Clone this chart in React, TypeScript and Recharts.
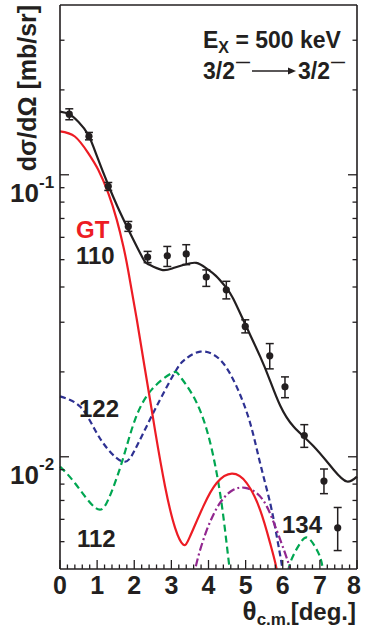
import { ComposedChart, Line, Scatter, ErrorBar, XAxis, YAxis } from "recharts";

const INK = "#231f20";
const FONT = "'Liberation Sans', Arial, Helvetica, sans-serif";

// measured cross sections (theta c.m. in deg, mb/sr)
const pointAngles = [0.25, 0.78, 1.3, 1.84, 2.36, 2.89, 3.4, 3.94, 4.48, 4.99, 5.65, 6.06, 6.58, 7.11, 7.48];
const pointValues = [0.164, 0.137, 0.091, 0.0656, 0.0511, 0.0516, 0.0524, 0.0434, 0.0391, 0.029, 0.0228, 0.0177, 0.0119, 0.0082, 0.0056];
const pointLows = [0.1567, 0.133, 0.088, 0.063, 0.0488, 0.0473, 0.048, 0.0402, 0.0363, 0.0275, 0.0205, 0.0162, 0.0108, 0.0074, 0.00465];
const pointHighs = [0.1714, 0.1413, 0.0939, 0.0683, 0.0535, 0.0557, 0.0565, 0.046, 0.0419, 0.0306, 0.0252, 0.0192, 0.013, 0.00905, 0.00661];

// total calculation (black)
const totalAngles = [0, 0.25, 0.5, 0.76, 1.0, 1.3, 1.55, 1.8, 2.2, 2.38, 2.74, 3.05, 3.35, 3.67, 3.95, 4.2, 4.45, 4.66, 4.99, 5.39, 5.66, 5.93, 6.29, 6.83, 7.37, 7.73, 8.0];
const totalValues = [0.1675, 0.164, 0.154, 0.1387, 0.116, 0.092, 0.077, 0.0656, 0.0515, 0.0482, 0.046, 0.0467, 0.048, 0.0487, 0.0465, 0.0438, 0.0402, 0.0365, 0.0295, 0.0227, 0.0186, 0.0152, 0.0128, 0.0109, 0.009, 0.00817, 0.0085];

// GT component (red)
const gtAngles = [0, 0.4, 0.76, 1.03, 1.3, 1.53, 1.71, 1.84, 2.07, 2.29, 2.43, 2.56, 2.83, 3.1, 3.32, 3.5, 3.86, 4.22, 4.63, 5.03, 5.39, 5.66, 5.8, 5.9];
const gtValues = [0.1426, 0.1367, 0.1194, 0.1042, 0.0861, 0.0692, 0.0555, 0.0455, 0.0306, 0.0204, 0.0158, 0.0124, 0.00785, 0.0056, 0.00488, 0.00521, 0.00667, 0.00807, 0.00871, 0.00807, 0.00648, 0.00494, 0.0042, 0.0036];

// 122 component (blue)
const c122Angles = [0, 0.54, 0.94, 1.3, 1.72, 2.02, 2.38, 2.74, 3.14, 3.38, 3.78, 4.31, 4.76, 5.12, 5.39, 5.66, 5.84, 5.98, 6.05];
const c122Values = [0.01637, 0.01507, 0.01247, 0.0106, 0.0096, 0.0106, 0.0132, 0.01637, 0.0204, 0.0222, 0.0236, 0.0221, 0.0177, 0.0132, 0.0095, 0.00686, 0.00521, 0.0041, 0.0035];

// 112 component (green), two lobes
const c112Angles = [0, 0.4, 0.96, 1.3, 1.66, 2.02, 2.47, 3.01, 3.23, 3.59, 3.95, 4.22, 4.4, 4.54, 4.62];
const c112Values = [0.00923, 0.00807, 0.00658, 0.00705, 0.0095, 0.01352, 0.0173, 0.0198, 0.0193, 0.0164, 0.0125, 0.00875, 0.00614, 0.00431, 0.0036];
const c112TailAngles = [6.12, 6.2, 6.47, 6.69, 6.92, 7.05, 7.12];
const c112TailValues = [0.0036, 0.0042, 0.00494, 0.00515, 0.00467, 0.0042, 0.0036];

// 134 component (purple)
const c134Angles = [3.6, 3.68, 3.95, 4.31, 4.67, 4.99, 5.3, 5.57, 5.84, 6.06, 6.2, 6.27];
const c134Values = [0.0036, 0.0042, 0.00548, 0.00686, 0.00764, 0.00776, 0.00743, 0.00667, 0.00548, 0.00456, 0.004, 0.0036];

const xMajorTicks = [0, 1, 2, 3, 4, 5, 6, 7, 8];
const xTicks = xMajorTicks.flatMap((m) =>
  m === 8 ? [8] : [0, 2, 4, 6, 8].map((k) => Math.round((m + k / 10) * 10) / 10)
);
const yMajorTicks = [0.01, 0.1];
const yTicks = [0.005, 0.006, 0.007, 0.008, 0.009, 0.01, 0.02, 0.03, 0.04, 0.05, 0.06, 0.07, 0.08, 0.09, 0.1, 0.2, 0.3];
const yExponents: Record<string, string> = { "0.01": "-2", "0.1": "-1" };

const toRows = (xs: number[], ys: number[]) => xs.map((x, i) => ({ x, y: ys[i] }));

const pointRows = pointAngles.map((x, i) => ({
  x,
  y: pointValues[i],
  err: [pointValues[i] - pointLows[i], pointHighs[i] - pointValues[i]],
}));
const totalRows = toRows(totalAngles, totalValues);
const gtRows = toRows(gtAngles, gtValues);
const c122Rows = toRows(c122Angles, c122Values);
const c112Head = toRows(c112Angles, c112Values);
const c112Tail = toRows(c112TailAngles, c112TailValues);
const c134Rows = toRows(c134Angles, c134Values);

const txt = { fontFamily: FONT, fontWeight: 700, fill: INK } as const;

function BottomTick({ x, y, payload }: any) {
  const major = xMajorTicks.includes(payload.value);
  return (
    <g>
      <line x1={x} x2={x} y1={y} y2={y - (major ? 9 : 4.5)} stroke={INK} strokeWidth={1.3} />
      {major && (
        <text x={payload.value === 8 ? x - 3 : x} y={y + 25} textAnchor="middle" fontSize={25} {...txt}>
          {payload.value}
        </text>
      )}
    </g>
  );
}

function TopTick({ x, y, payload }: any) {
  const major = xMajorTicks.includes(payload.value);
  return <line x1={x} x2={x} y1={y} y2={y + (major ? 9 : 4.5)} stroke={INK} strokeWidth={1.3} />;
}

function LeftTick({ x, y, payload }: any) {
  const major = yMajorTicks.includes(payload.value);
  const exp = yExponents[String(payload.value)];
  return (
    <g>
      <line x1={x} x2={x + (major ? 9 : 4.5)} y1={y} y2={y} stroke={INK} strokeWidth={1.3} />
      {major && (
        <>
          <text x={x - 21} y={y + 27} textAnchor="end" fontSize={26} {...txt}>10</text>
          <text x={x - 21} y={y + 13} fontSize={17} {...txt}>{exp}</text>
        </>
      )}
    </g>
  );
}

function RightTick({ x, y, payload }: any) {
  const major = yMajorTicks.includes(payload.value);
  return <line x1={x} x2={x - (major ? 9 : 4.5)} y1={y} y2={y} stroke={INK} strokeWidth={1.3} />;
}

const Dot = (p: any) => <circle cx={p.cx} cy={p.cy} r={3.6} fill={INK} />;

export default function App() {
  const axisLine = { stroke: INK, strokeWidth: 1.6 };
  const curve = { xAxisId: "b", yAxisId: "l", dataKey: "y", type: "natural" as const, dot: false, isAnimationActive: false, strokeWidth: 2.2 };
  return (
    <div style={{ position: "absolute", left: 0, top: 0, width: 366, height: 635, background: "#fff" }}>
      <ComposedChart width={366} height={635} margin={{ top: 0, right: 0, bottom: 0, left: 0 }}>
        <XAxis xAxisId="b" dataKey="x" type="number" domain={[0, 8]} ticks={xTicks} interval={0}
          height={66} tickSize={0} tickMargin={0} tickLine={false} axisLine={axisLine} tick={<BottomTick />} />
        <XAxis xAxisId="t" orientation="top" dataKey="x" type="number" domain={[0, 8]} ticks={xTicks} interval={0}
          height={5} tickSize={0} tickMargin={0} tickLine={false} axisLine={axisLine} tick={<TopTick />} />
        <YAxis yAxisId="l" dataKey="y" type="number" scale="log" domain={[0.004, 0.4]} allowDataOverflow
          ticks={yTicks} interval={0} width={60} tickSize={0} tickMargin={0} tickLine={false}
          axisLine={axisLine} tick={<LeftTick />} />
        <YAxis yAxisId="r" orientation="right" dataKey="y" type="number" scale="log" domain={[0.004, 0.4]} allowDataOverflow
          ticks={yTicks} interval={0} width={9} tickSize={0} tickMargin={0} tickLine={false}
          axisLine={axisLine} tick={<RightTick />} />

        <Line {...curve} data={c122Rows} stroke="#2e3192" strokeDasharray="6 3.5" />
        <Line {...curve} data={c112Head} stroke="#00a651" strokeDasharray="7 4" />
        <Line {...curve} data={c112Tail} stroke="#00a651" strokeDasharray="7 4" />
        <Line {...curve} data={c134Rows} stroke="#92278f" strokeDasharray="8 3 2 3" />
        <Line {...curve} data={gtRows} stroke="#ed1c24" />
        <Line {...curve} data={totalRows} stroke={INK} />
        <Scatter xAxisId="b" yAxisId="l" data={pointRows} dataKey="y" shape={<Dot />} isAnimationActive={false}>
          <ErrorBar dataKey="err" direction="y" width={4} stroke={INK} strokeWidth={1.5} isAnimationActive={false} />
        </Scatter>
      </ComposedChart>

      <svg width={366} height={635} style={{ position: "absolute", left: 0, top: 0, pointerEvents: "none" }}>
        <text transform="translate(36,88) rotate(-90)" textAnchor="middle" fontSize={25} {...txt}>
          dσ/dΩ [mb/sr]
        </text>

        <text x={203} y={48} fontSize={23} {...txt}>
          E<tspan fontSize={16} dy={5}>X</tspan>
          <tspan dy={-5}> = 500 keV</tspan>
        </text>
        <text x={203} y={79} fontSize={23} {...txt}>3/2</text>
        <text x={236} y={67} fontSize={14} {...txt}>—</text>
        <line x1={252} x2={290} y1={71} y2={71} stroke={INK} strokeWidth={1.4} />
        <path d="M296,71 L288,67.5 L288,74.5 Z" fill={INK} />
        <text x={298} y={79} fontSize={23} {...txt}>3/2</text>
        <text x={331} y={67} fontSize={14} {...txt}>—</text>

        <text x={76} y={238} fontSize={24} {...txt} fill="#ed1c24">GT</text>
        <text x={76} y={264} fontSize={24} {...txt}>110</text>
        <text x={79} y={417} fontSize={24} {...txt}>122</text>
        <text x={77} y={547} fontSize={24} {...txt}>112</text>
        <text x={282} y={533} fontSize={24} {...txt}>134</text>

        <text x={356} y={620} textAnchor="end" fontSize={24} {...txt}>
          <tspan fontSize={26}>θ</tspan>
          <tspan fontSize={17} dy={5}>c.m.</tspan>
          <tspan dy={-5}>[deg.]</tspan>
        </text>
      </svg>
    </div>
  );
}
